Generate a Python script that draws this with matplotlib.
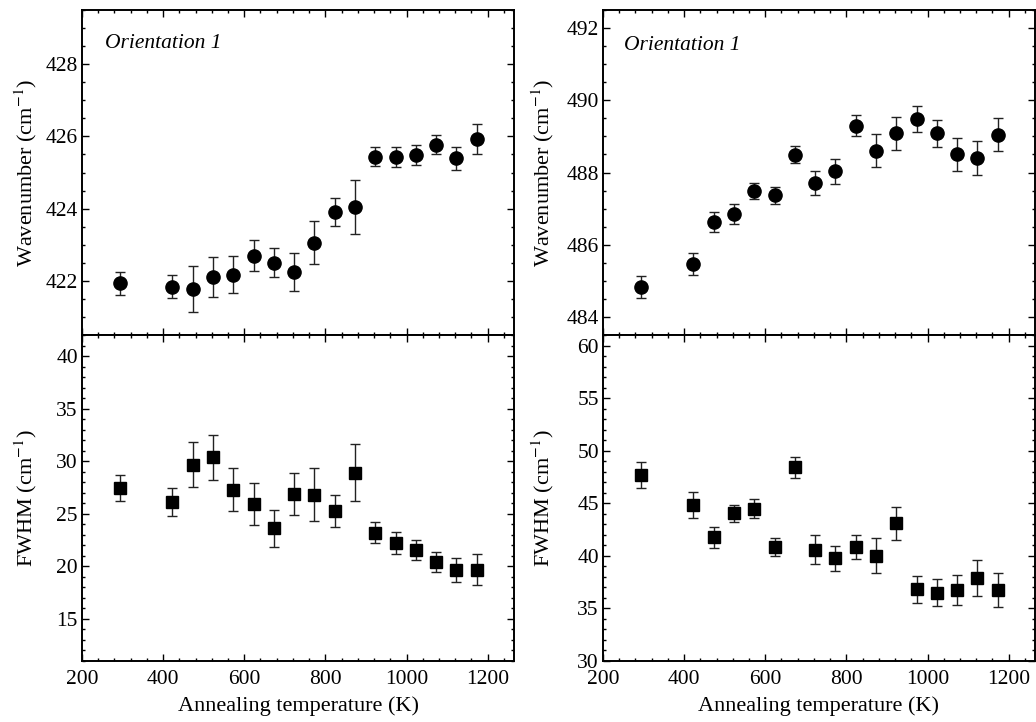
import matplotlib
matplotlib.use("Agg")
import matplotlib.pyplot as plt
from matplotlib.ticker import MultipleLocator

plt.rcParams['font.family'] = ['Liberation Serif', 'DejaVu Serif']
plt.rcParams['mathtext.fontset'] = 'stix'

# Annealing temperatures (K)
temps = [293, 423, 473, 523, 573, 623, 673, 723, 773, 823, 873, 923, 973, 1023, 1073, 1123, 1173]

# Left column: mode near 422 cm^-1
wn_left = [421.93, 421.84, 421.77, 422.11, 422.17, 422.69, 422.50, 422.25, 423.06, 423.91,
           424.05, 425.44, 425.42, 425.48, 425.77, 425.39, 425.92]
wn_left_err = [0.32, 0.32, 0.64, 0.56, 0.52, 0.43, 0.40, 0.53, 0.60, 0.39,
               0.75, 0.26, 0.28, 0.28, 0.27, 0.31, 0.42]
fw_left = [27.43, 26.13, 29.65, 30.38, 27.30, 25.90, 23.62, 26.90, 26.83, 25.24,
           28.90, 23.20, 22.22, 21.56, 20.38, 19.62, 19.68]
fw_left_err = [1.24, 1.33, 2.14, 2.13, 2.06, 2.00, 1.75, 2.00, 2.56, 1.50,
               2.70, 1.00, 1.00, 0.98, 0.95, 1.13, 1.50]

# Right column: mode near 487 cm^-1
wn_right = [484.83, 485.46, 486.63, 486.86, 487.50, 487.37, 488.49, 487.71, 488.03, 489.29,
            488.60, 489.09, 489.47, 489.09, 488.50, 488.40, 489.05]
wn_right_err = [0.31, 0.30, 0.28, 0.28, 0.22, 0.23, 0.24, 0.33, 0.34, 0.29,
                0.46, 0.46, 0.36, 0.37, 0.45, 0.48, 0.46]
fw_right = [47.68, 44.86, 41.75, 44.06, 44.50, 40.86, 48.41, 40.57, 39.75, 40.86,
            40.00, 43.11, 36.83, 36.50, 36.76, 37.87, 36.76]
fw_right_err = [1.27, 1.22, 1.00, 0.80, 0.87, 0.87, 1.00, 1.37, 1.20, 1.13,
                1.67, 1.56, 1.30, 1.30, 1.46, 1.70, 1.60]

panel_text = "Orientation 1"
xlabel = "Annealing temperature (K)"
ylabel_wn = "Wavenumber (cm$^{-1}$)"
ylabel_fw = "FWHM (cm$^{-1}$)"

W, H = 1036, 722
fig = plt.figure(figsize=(W / 100, H / 100), dpi=100)

def px_axes(x0, y0, x1, y1):
    return fig.add_axes([x0 / W, 1 - y1 / H, (x1 - x0) / W, (y1 - y0) / H])

ax_tl = px_axes(82, 10, 514, 335)
ax_bl = px_axes(82, 335, 514, 661)
ax_tr = px_axes(603, 10, 1035, 335)
ax_br = px_axes(603, 335, 1035, 661)

TICK_FS = 15.5
LABEL_FS = 16

def style(ax, ymaj, ymin, show_x):
    ax.set_xlim(200, 1265)
    ax.xaxis.set_major_locator(MultipleLocator(200))
    ax.xaxis.set_minor_locator(MultipleLocator(40))
    ax.yaxis.set_major_locator(MultipleLocator(ymaj))
    ax.yaxis.set_minor_locator(MultipleLocator(ymin))
    ax.tick_params(which='both', direction='in', top=True, right=True,
                   width=1.0, labelsize=TICK_FS)
    ax.tick_params(axis='y', pad=3)
    ax.tick_params(axis='x', pad=6.5)
    ax.tick_params(which='major', length=5)
    ax.tick_params(which='minor', length=2.5)
    for s in ax.spines.values():
        s.set_linewidth(1.4)
    if not show_x:
        ax.tick_params(labelbottom=False)

ekw = dict(fmt='none', ecolor='#222222', elinewidth=1.0, capsize=3.5, capthick=1.0, zorder=2)

# Top-left
ax_tl.errorbar(temps, wn_left, yerr=wn_left_err, **ekw)
ax_tl.plot(temps, wn_left, 'o', color='black', markersize=9.5, zorder=3, linestyle='none')
ax_tl.set_ylim(420.5, 429.5)
style(ax_tl, 2, 0.5, False)
ax_tl.set_ylabel(ylabel_wn, fontsize=LABEL_FS)

# Bottom-left
ax_bl.errorbar(temps, fw_left, yerr=fw_left_err, **ekw)
ax_bl.plot(temps, fw_left, 's', color='black', markersize=8.5, zorder=3, linestyle='none')
ax_bl.set_ylim(11, 42)
style(ax_bl, 5, 1, True)
ax_bl.set_ylabel(ylabel_fw, fontsize=LABEL_FS)
ax_bl.set_xlabel(xlabel, fontsize=LABEL_FS, labelpad=5)

# Top-right
ax_tr.errorbar(temps, wn_right, yerr=wn_right_err, **ekw)
ax_tr.plot(temps, wn_right, 'o', color='black', markersize=9.5, zorder=3, linestyle='none')
ax_tr.set_ylim(483.5, 492.5)
style(ax_tr, 2, 0.5, False)
ax_tr.set_ylabel(ylabel_wn, fontsize=LABEL_FS)

# Bottom-right
ax_br.errorbar(temps, fw_right, yerr=fw_right_err, **ekw)
ax_br.plot(temps, fw_right, 's', color='black', markersize=8.5, zorder=3, linestyle='none')
ax_br.set_ylim(30, 61)
style(ax_br, 5, 1, True)
ax_br.set_ylabel(ylabel_fw, fontsize=LABEL_FS)
ax_br.set_xlabel(xlabel, fontsize=LABEL_FS, labelpad=5)

fig.text(105 / W, 1 - 43 / H, panel_text, fontsize=15.5,
         style='italic', va='center', ha='left')
fig.text(624 / W, 1 - 45 / H, panel_text, fontsize=15.5,
         style='italic', va='center', ha='left')

for ax in (ax_tl, ax_bl):
    ax.yaxis.set_label_coords(-0.1, 0.5)
for ax in (ax_tr, ax_br):
    ax.yaxis.set_label_coords(-0.109, 0.5)

fig.savefig("out.png", dpi=100, facecolor='white')
